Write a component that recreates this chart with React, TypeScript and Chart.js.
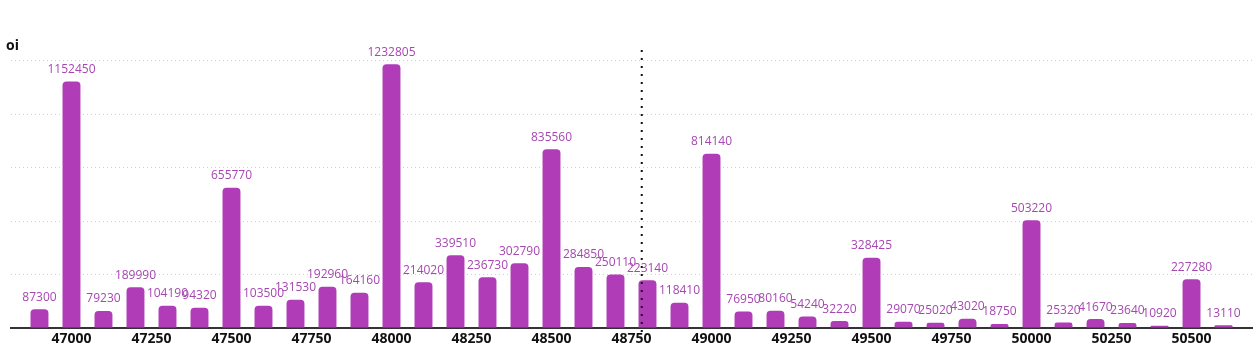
import React, { useEffect, useRef } from "react";
import { Chart, registerables } from "chart.js";

Chart.register(...registerables);

const strikes = [
  46900, 47000, 47100, 47200, 47300, 47400, 47500, 47600, 47700, 47800,
  47900, 48000, 48100, 48200, 48300, 48400, 48500, 48600, 48700, 48800,
  48900, 49000, 49100, 49200, 49300, 49400, 49500, 49600, 49700, 49800,
  49900, 50000, 50100, 50200, 50300, 50400, 50500, 50600,
];
const oiValues = [
  87300, 1152450, 79230, 189990, 104190, 94320, 655770, 103500, 131530, 192960,
  164160, 1232805, 214020, 339510, 236730, 302790, 835560, 284850, 250110, 223140,
  118410, 814140, 76950, 80160, 54240, 32220, 328425, 29070, 25020, 43020,
  18750, 503220, 25320, 41670, 23640, 10920, 227280, 13110,
];
const spotPrice = 48782;
const xMin = 46811;
const xMax = 50689;
const xStep = 250;
const yStep = 250000;
const axisTitle = "oi";

const BAR = "#b03cb8";
const LABEL = "#a647b1";

export default function App() {
  const ref = useRef<HTMLCanvasElement | null>(null);
  useEffect(() => {
    document.body.style.margin = "0";
    const canvas = ref.current!;
    const yMax = Math.max(...oiValues) * 1.05;

    const valueLabels = {
      id: "valueLabels",
      afterDatasetsDraw(chart: any) {
        const ctx = chart.ctx;
        const meta = chart.getDatasetMeta(0);
        ctx.save();
        ctx.font = "12px 'Open Sans'";
        ctx.fillStyle = LABEL;
        ctx.textAlign = "center";
        ctx.textBaseline = "bottom";
        meta.data.forEach((el: any, i: number) => {
          ctx.fillText(String(oiValues[i]), el.x, el.y - 6);
        });
        ctx.restore();
      },
    };

    const extras = {
      id: "extras",
      afterDraw(chart: any) {
        const ctx = chart.ctx;
        const x = chart.scales.x.getPixelForValue(spotPrice);
        const area = chart.chartArea;
        ctx.save();
        ctx.strokeStyle = "#111";
        ctx.lineWidth = 2;
        ctx.setLineDash([2, 6]);
        ctx.beginPath();
        ctx.moveTo(x, area.top - 1);
        ctx.lineTo(x, area.bottom + 7);
        ctx.stroke();
        ctx.restore();

        ctx.save();
        ctx.font = "bold 14px 'Open Sans'";
        ctx.fillStyle = "#111";
        ctx.textAlign = "left";
        ctx.textBaseline = "middle";
        ctx.fillText(axisTitle, 6, 46);
        ctx.restore();
      },
    };

    const chart = new Chart(canvas, {
      type: "bar",
      data: {
        datasets: [
          {
            label: axisTitle,
            data: strikes.map((s, i) => ({ x: s, y: oiValues[i] })),
            backgroundColor: BAR,
            borderRadius: { topLeft: 4, topRight: 4, bottomLeft: 0, bottomRight: 0 },
            borderSkipped: "bottom",
            barPercentage: 0.7,
            categoryPercentage: 0.8,
          },
        ],
      },
      options: {
        animation: false,
        responsive: false,
        maintainAspectRatio: false,
        layout: { padding: { left: 11, right: 6, top: 51, bottom: 1 } },
        plugins: {
          legend: { display: false },
          tooltip: { enabled: false },
          title: { display: false },
        },
        scales: {
          x: {
            type: "linear",
            min: xMin,
            max: xMax,
            offset: false,
            grid: { display: false, drawTicks: false },
            border: { display: true, color: "#333", width: 2 },
            ticks: {
              stepSize: xStep,
              includeBounds: false,
              autoSkip: false,
              maxRotation: 0,
              padding: 4,
              color: "#111",
              font: { family: "'Open Sans'", size: 14, weight: "bold", lineHeight: 1 },
              callback: (v: any) => String(v),
            },
          },
          y: {
            min: 0,
            max: yMax,
            afterBuildTicks: (scale: any) => {
              const t: any[] = [];
              for (let v = 0; v <= yMax; v += yStep) t.push({ value: v });
              scale.ticks = t;
            },
            grid: {
              color: "#cfcfcf",
              lineWidth: 1,
              drawTicks: false,
            },
            border: { display: false, dash: [1, 3] },
            ticks: { display: false },
          },
        },
      },
      plugins: [valueLabels, extras],
    } as any);
    return () => chart.destroy();
  }, []);
  return <canvas ref={ref} width={1258} height={351} style={{ display: "block" }} />;
}
